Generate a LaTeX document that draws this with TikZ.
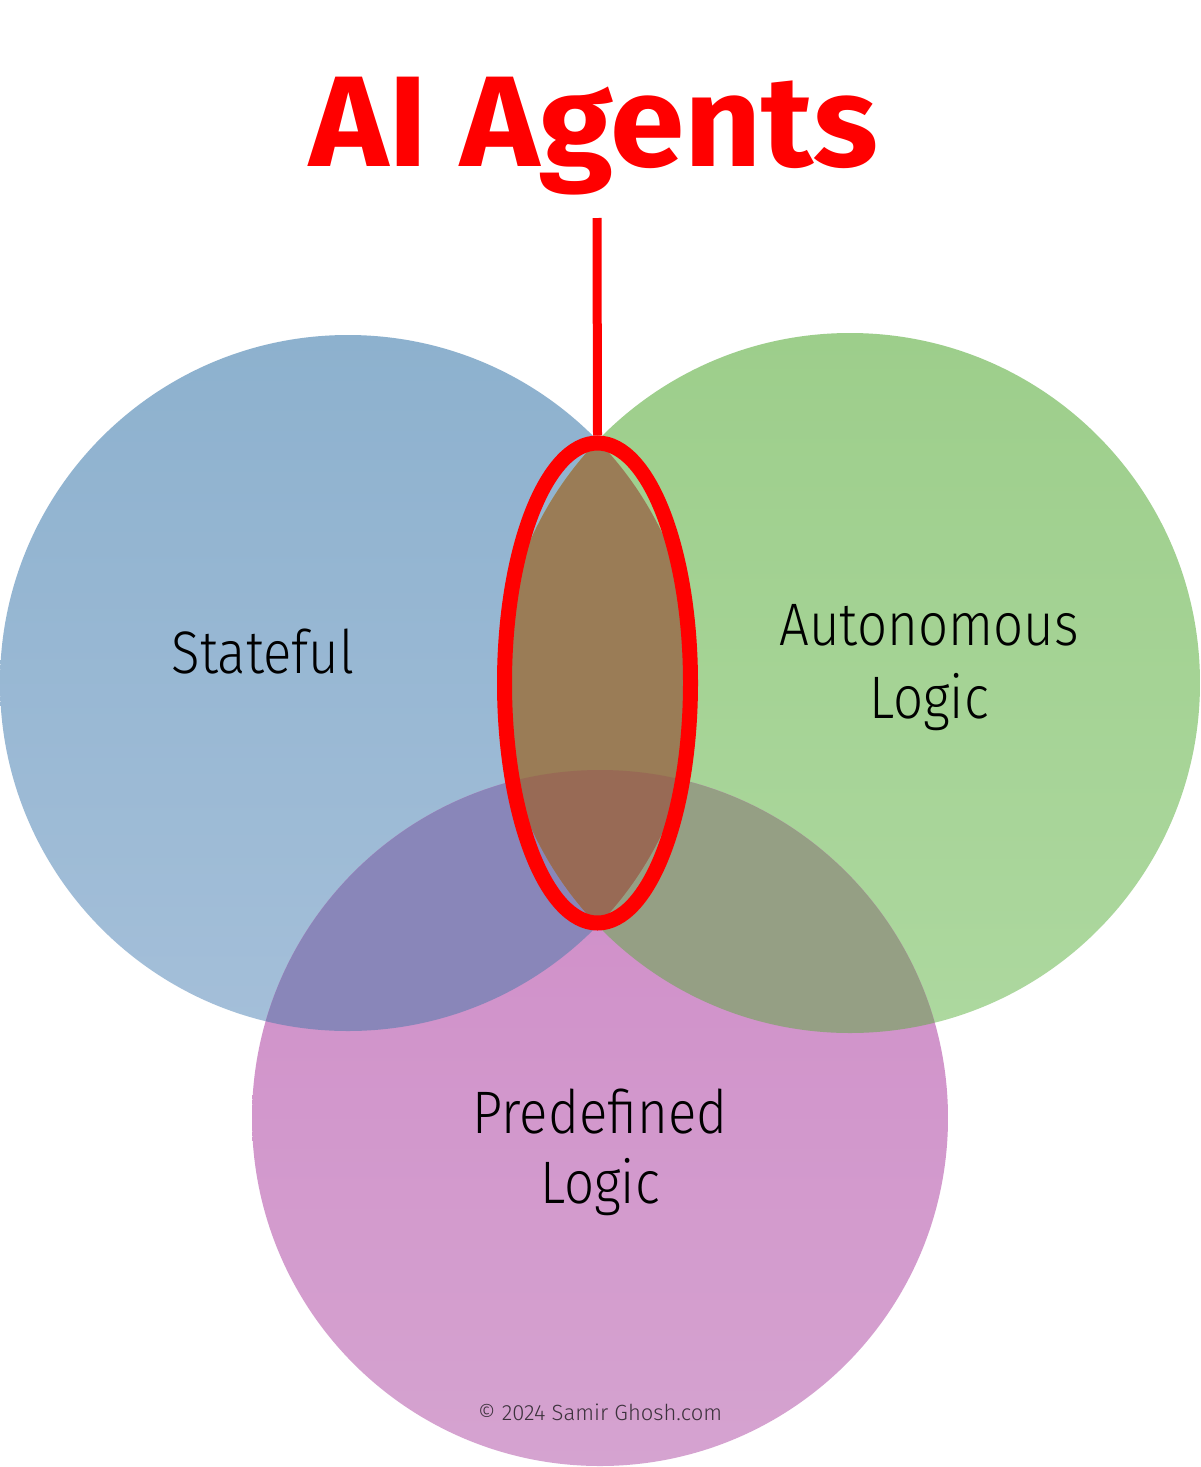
\documentclass[tikz,border=0pt]{standalone}
\usepackage{fontspec}
\setmainfont{Fira Sans}[UprightFont=* Light, BoldFont=* Bold]
\newfontfamily\labelfont{Fira Sans Light}[FakeStretch=0.88]
\newfontfamily\titlefont{Fira Sans Bold}[FakeStretch=1.04]
\usetikzlibrary{shapes.geometric}
\definecolor{blueTop}{HTML}{8DB1CE}
\definecolor{blueBot}{HTML}{A4BFD9}
\definecolor{greenTop}{HTML}{9DCE8B}
\definecolor{greenBot}{HTML}{ADD89F}
\definecolor{pinkTop}{HTML}{CF8CC8}
\definecolor{pinkBot}{HTML}{D5A3D0}
\definecolor{bpColor}{HTML}{8986B9}
\definecolor{gpColor}{HTML}{959F84}
\definecolor{lensColor}{HTML}{9A7C56}
\definecolor{tripleColor}{HTML}{986A55}
\definecolor{agentRed}{HTML}{FF0000}
\tikzset{
  label text/.style={font=\labelfont\fontsize{60}{73}\selectfont, text=black, align=center, inner sep=0pt, anchor=base},
}
\begin{document}
\begin{tikzpicture}[x=1pt,y=-1pt]
\useasboundingbox (0,0) rectangle (1200,1467);
\fill[white] (0,0) rectangle (1200,1467);
% circles
\shade[top color=blueTop, bottom color=blueBot] (348,683) circle[radius=348];
\shade[top color=greenTop, bottom color=greenBot] (850,683) circle[radius=350];
\shade[top color=pinkTop, bottom color=pinkBot] (600,1118) circle[radius=348];
% blue & pink
\begin{scope}
  \clip (348,683) circle[radius=348];
  \fill[bpColor] (600,1118) circle[radius=348];
\end{scope}
% green & pink
\begin{scope}
  \clip (850,683) circle[radius=350];
  \fill[gpColor] (600,1118) circle[radius=348];
\end{scope}
% blue & green
\begin{scope}
  \clip (348,683) circle[radius=348];
  \fill[lensColor] (850,683) circle[radius=350];
  \clip (850,683) circle[radius=350];
  \fill[tripleColor] (600,1118) circle[radius=348];
\end{scope}
% labels (base anchor = baseline of last line)
\node[label text] (stateful) at (263,673) {Stateful};
\node[label text] (autonomous) at (929,718) {Autonomous\\Logic};
\node[label text, font=\labelfont\fontsize{60}{70}\selectfont] (predefined) at (600,1203) {Predefined\\Logic};
\node[font=\fontsize{22}{26}\selectfont, inner sep=0pt, anchor=base, text={rgb,255:red,60;green,50;blue,60}] (copyright) at (600,1420) {© 2024 Samir Ghosh.com};
% title
\node[font=\titlefont\fontsize{129}{140}\selectfont, text=agentRed, inner sep=0pt, anchor=base] (title) at (594,166) {AI Agents};
% highlight ellipse
\node[ellipse, draw=agentRed, line width=15pt, minimum width=186pt, minimum height=480pt, inner sep=0pt] (agents) at (597.5,683) {};
\coordinate (linetop) at (597,218);
\draw[agentRed, line width=9pt] (linetop) -- (agents.north);
\end{tikzpicture}
\end{document}
